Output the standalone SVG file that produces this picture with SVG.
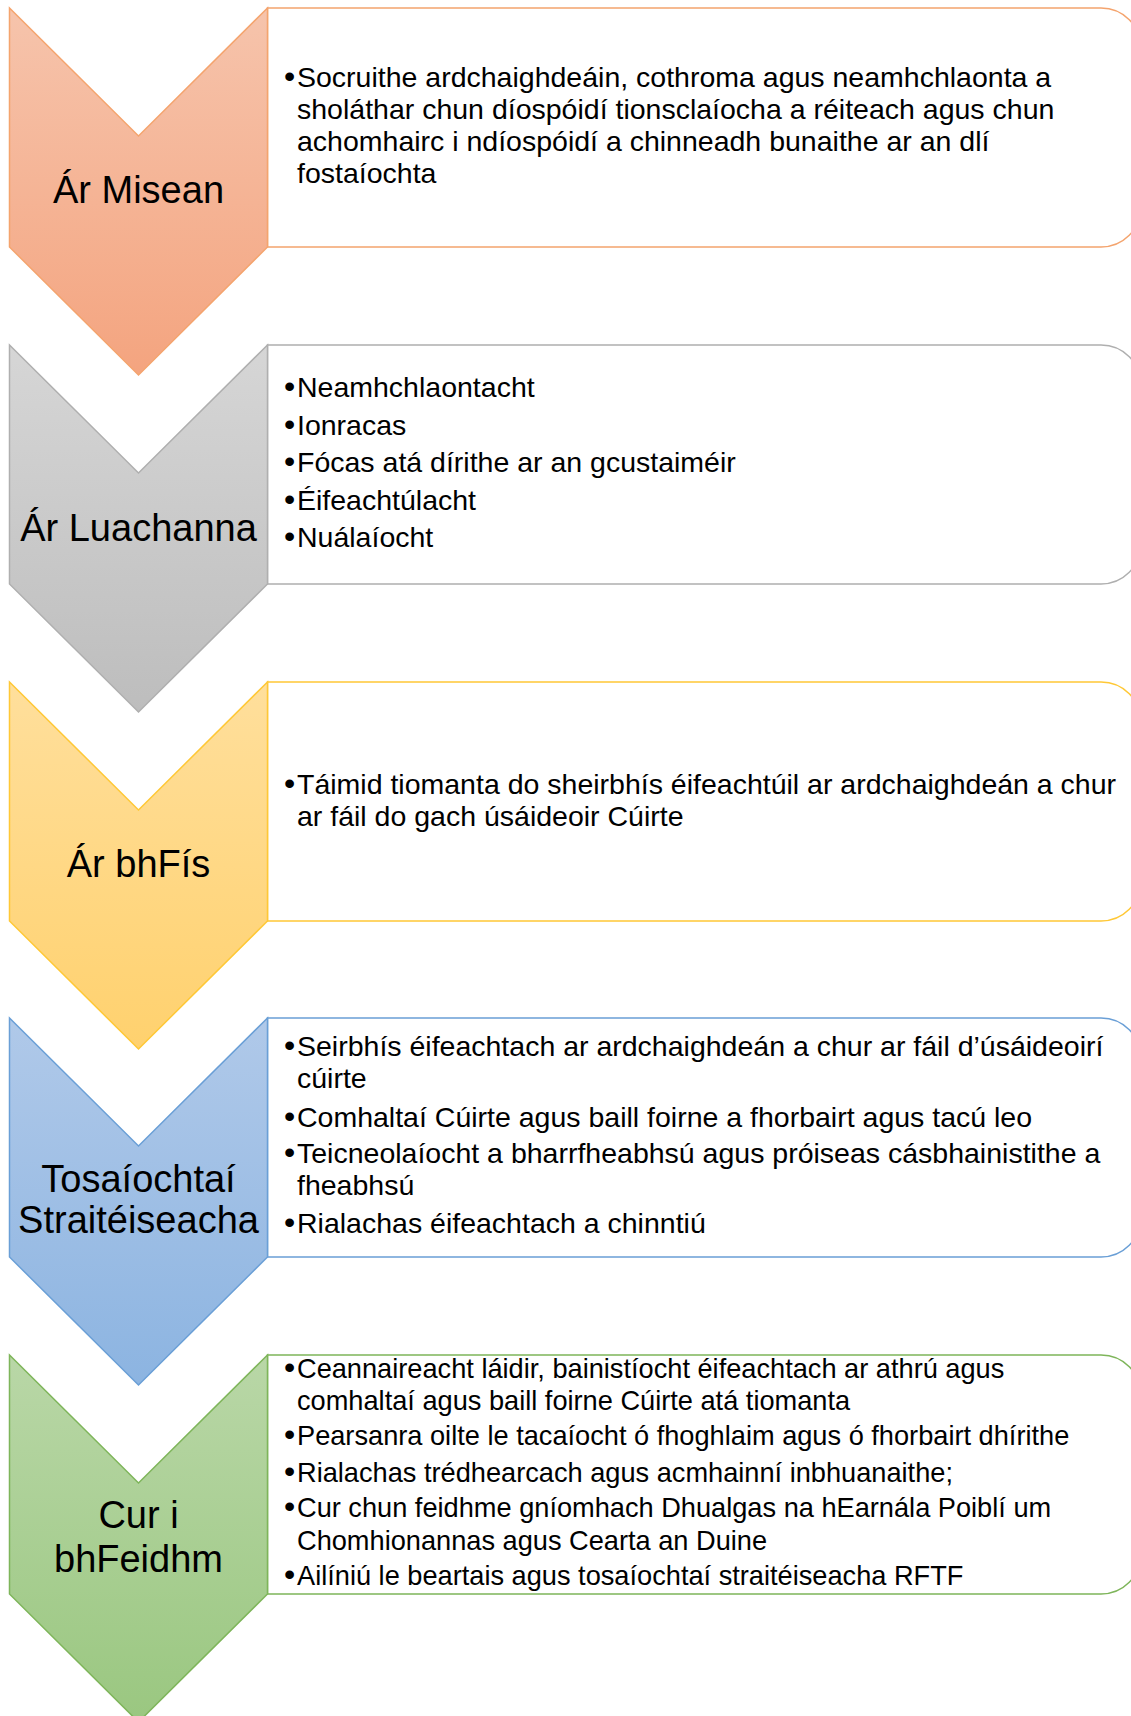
<svg xmlns="http://www.w3.org/2000/svg" width="1131" height="1716" viewBox="0 0 1131 1716">
<style>
.lbl{font-family:"Liberation Sans",Arial,sans-serif;font-size:38px;fill:#000;text-anchor:middle}
.txt{font-family:"Liberation Sans",Arial,sans-serif;font-size:28.5px;fill:#000}
.sm{font-size:27.2px}
.b{font-size:32px}
.box{fill:#fff;stroke-width:1.5}
.chev{stroke-width:1.5}
</style>
<defs>
<linearGradient id="gO" x1="0" y1="0" x2="0" y2="1"><stop offset="0" stop-color="#F6C4AC"/><stop offset="1" stop-color="#F4A47F"/></linearGradient>
<linearGradient id="gG" x1="0" y1="0" x2="0" y2="1"><stop offset="0" stop-color="#D6D6D6"/><stop offset="1" stop-color="#BDBDBD"/></linearGradient>
<linearGradient id="gY" x1="0" y1="0" x2="0" y2="1"><stop offset="0" stop-color="#FFDF9C"/><stop offset="1" stop-color="#FFD16E"/></linearGradient>
<linearGradient id="gB" x1="0" y1="0" x2="0" y2="1"><stop offset="0" stop-color="#B0C9E9"/><stop offset="1" stop-color="#8CB4E1"/></linearGradient>
<linearGradient id="gN" x1="0" y1="0" x2="0" y2="1"><stop offset="0" stop-color="#B9D7A7"/><stop offset="1" stop-color="#9AC780"/></linearGradient>
</defs>
<g id="connectors"/>

<g id="node1">
<path class="box" stroke="#F4A46E" d="M267.5,8 H1101 A40,40 0 0 1 1141,48 V207 A40,40 0 0 1 1101,247 H267.5 Z"/>
<path class="chev" fill="url(#gO)" stroke="#F4A46E" d="M9.5,8 L138.5,136 L267.5,8 V247 L138.5,375 L9.5,247 Z"/>
<text class="lbl" x="138.5" y="203">Ár Misean</text>
<text class="txt"><tspan class="b" x="284" y="87">•</tspan><tspan x="297" y="87">Socruithe ardchaighdeáin, cothroma agus neamhchlaonta a</tspan><tspan x="297" y="119">sholáthar chun díospóidí tionsclaíocha a réiteach agus chun</tspan><tspan x="297" y="151">achomhairc i ndíospóidí a chinneadh bunaithe ar an dlí</tspan><tspan x="297" y="183">fostaíochta</tspan></text>
</g>

<g id="node2">
<path class="box" stroke="#AFAFAF" d="M267.5,345 H1101 A40,40 0 0 1 1141,385 V544 A40,40 0 0 1 1101,584 H267.5 Z"/>
<path class="chev" fill="url(#gG)" stroke="#AFAFAF" d="M9.5,345 L138.5,473 L267.5,345 V584 L138.5,712 L9.5,584 Z"/>
<text class="lbl" x="138.5" y="541">Ár Luachanna</text>
<text class="txt"><tspan class="b" x="284" y="397">•</tspan><tspan x="297" y="397">Neamhchlaontacht</tspan><tspan class="b" x="284" y="434.5">•</tspan><tspan x="297" y="434.5">Ionracas</tspan><tspan class="b" x="284" y="472">•</tspan><tspan x="297" y="472">Fócas atá dírithe ar an gcustaiméir</tspan><tspan class="b" x="284" y="510">•</tspan><tspan x="297" y="510">Éifeachtúlacht</tspan><tspan class="b" x="284" y="547">•</tspan><tspan x="297" y="547">Nuálaíocht</tspan></text>
</g>

<g id="node3">
<path class="box" stroke="#FFC836" d="M267.5,682 H1101 A40,40 0 0 1 1141,722 V881 A40,40 0 0 1 1101,921 H267.5 Z"/>
<path class="chev" fill="url(#gY)" stroke="#FFC836" d="M9.5,682 L138.5,810 L267.5,682 V921 L138.5,1049 L9.5,921 Z"/>
<text class="lbl" x="138.5" y="877">Ár bhFís</text>
<text class="txt"><tspan class="b" x="284" y="794">•</tspan><tspan x="297" y="794">Táimid tiomanta do sheirbhís éifeachtúil ar ardchaighdeán a chur</tspan><tspan x="297" y="826">ar fáil do gach úsáideoir Cúirte</tspan></text>
</g>

<g id="node4">
<path class="box" stroke="#6A9FD6" d="M267.5,1018 H1101 A40,40 0 0 1 1141,1058 V1217 A40,40 0 0 1 1101,1257 H267.5 Z"/>
<path class="chev" fill="url(#gB)" stroke="#6A9FD6" d="M9.5,1018 L138.5,1146 L267.5,1018 V1257 L138.5,1385 L9.5,1257 Z"/>
<text class="lbl"><tspan x="138.5" y="1192">Tosaíochtaí</tspan><tspan x="138.5" y="1233">Straitéiseacha</tspan></text>
<text class="txt"><tspan class="b" x="284" y="1056">•</tspan><tspan x="297" y="1056">Seirbhís éifeachtach ar ardchaighdeán a chur ar fáil d’úsáideoirí</tspan><tspan x="297" y="1088">cúirte</tspan><tspan class="b" x="284" y="1127">•</tspan><tspan x="297" y="1127">Comhaltaí Cúirte agus baill foirne a fhorbairt agus tacú leo</tspan><tspan class="b" x="284" y="1163">•</tspan><tspan x="297" y="1163">Teicneolaíocht a bharrfheabhsú agus próiseas cásbhainistithe a</tspan><tspan x="297" y="1195">fheabhsú</tspan><tspan class="b" x="284" y="1233">•</tspan><tspan x="297" y="1233">Rialachas éifeachtach a chinntiú</tspan></text>
</g>

<g id="node5">
<path class="box" stroke="#7EB55A" d="M267.5,1355 H1101 A40,40 0 0 1 1141,1395 V1554 A40,40 0 0 1 1101,1594 H267.5 Z"/>
<path class="chev" fill="url(#gN)" stroke="#7EB55A" d="M9.5,1355 L138.5,1483 L267.5,1355 V1594 L138.5,1722 L9.5,1594 Z"/>
<text class="lbl"><tspan x="138.5" y="1528">Cur i</tspan><tspan x="138.5" y="1572">bhFeidhm</tspan></text>
<text class="txt sm"><tspan class="b" x="284" y="1378">•</tspan><tspan x="297" y="1378">Ceannaireacht láidir, bainistíocht éifeachtach ar athrú agus</tspan><tspan x="297" y="1410">comhaltaí agus baill foirne Cúirte atá tiomanta</tspan><tspan class="b" x="284" y="1445">•</tspan><tspan x="297" y="1445">Pearsanra oilte le tacaíocht ó fhoghlaim agus ó fhorbairt dhírithe</tspan><tspan class="b" x="284" y="1482">•</tspan><tspan x="297" y="1482">Rialachas trédhearcach agus acmhainní inbhuanaithe;</tspan><tspan class="b" x="284" y="1517">•</tspan><tspan x="297" y="1517">Cur chun feidhme gníomhach Dhualgas na hEarnála Poiblí um</tspan><tspan x="297" y="1550">Chomhionannas agus Cearta an Duine</tspan><tspan class="b" x="284" y="1585">•</tspan><tspan x="297" y="1585">Ailíniú le beartais agus tosaíochtaí straitéiseacha RFTF</tspan></text>
</g>
</svg>
